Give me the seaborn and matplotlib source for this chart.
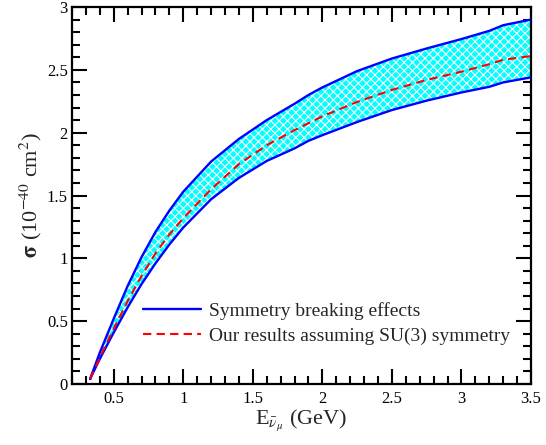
import matplotlib
matplotlib.use("Agg")
import matplotlib.pyplot as plt
import seaborn as sns
import numpy as np
import pandas as pd
from matplotlib.ticker import MultipleLocator, FuncFormatter

# ---- data ----
energy = [0.33, 0.4, 0.5, 0.6, 0.7, 0.8, 0.9, 1.0, 1.2, 1.4, 1.6, 1.8, 1.9, 2.0,
          2.25, 2.5, 2.75, 3.0, 3.2, 3.3, 3.5]
sigma_upper = [0.04, 0.25, 0.52, 0.78, 1.01, 1.21, 1.38, 1.53, 1.77, 1.95, 2.10, 2.23,
               2.30, 2.36, 2.49, 2.59, 2.67, 2.745, 2.81, 2.855, 2.90]
sigma_lower = [0.04, 0.20, 0.41, 0.61, 0.795, 0.96, 1.11, 1.245, 1.47, 1.64, 1.775, 1.875,
               1.935, 1.98, 2.085, 2.18, 2.255, 2.32, 2.365, 2.40, 2.44]
sigma_su3 = [0.04, 0.21, 0.44, 0.66, 0.86, 1.04, 1.19, 1.32, 1.55, 1.75, 1.90, 2.02,
             2.075, 2.13, 2.245, 2.34, 2.42, 2.485, 2.545, 2.58, 2.61]
label_band = "Symmetry breaking effects"
label_su3 = "Our results assuming SU(3) symmetry"

df = pd.DataFrame({"E": energy, "up": sigma_upper, "lo": sigma_lower, "su3": sigma_su3})

sns.set_theme(style="ticks")
plt.rcParams["font.family"] = ["Liberation Serif", "DejaVu Serif"]
plt.rcParams["mathtext.fontset"] = "stix"
plt.rcParams["hatch.color"] = "white"
plt.rcParams["hatch.linewidth"] = 0.8

fig = plt.figure(figsize=(5.46, 4.45), dpi=100)
ax = fig.add_axes([72 / 546, 1 - 384 / 445, (531 - 72) / 546, (384 - 7) / 445])

ax.fill_between(df["E"], df["lo"], df["up"], facecolor="#00ffff", edgecolor="white",
                hatch="xxxx", linewidth=0, zorder=1)
sns.lineplot(data=df, x="E", y="up", ax=ax, color="#0000ff", linewidth=1.7,
             sort=False, estimator=None, label=label_band, zorder=3)
sns.lineplot(data=df, x="E", y="lo", ax=ax, color="#0000ff", linewidth=1.7,
             sort=False, estimator=None, label="_nolegend_", zorder=3)
sns.lineplot(data=df, x="E", y="su3", ax=ax, color="#ff0000", linewidth=1.5,
             sort=False, estimator=None, label=label_su3, zorder=4)
ax.lines[-1].set_dashes((4, 2.5))

ax.set_xlim(0.2, 3.5)
ax.set_ylim(0, 3)
ax.xaxis.set_major_locator(MultipleLocator(0.5))
ax.xaxis.set_minor_locator(MultipleLocator(0.1))
ax.yaxis.set_major_locator(MultipleLocator(0.5))
ax.yaxis.set_minor_locator(MultipleLocator(0.1))
fmt = FuncFormatter(lambda v, p: "%g" % v)
ax.xaxis.set_major_formatter(fmt)
ax.yaxis.set_major_formatter(fmt)

ax.tick_params(which="both", direction="in", top=True, right=True, width=1.5,
               colors="black", labelsize=12)
ax.tick_params(which="major", length=10.5)
ax.tick_params(which="minor", length=5.8)
ax.tick_params(axis="y", which="major", pad=3)
ax.tick_params(axis="x", which="major", pad=5)
for s in ax.spines.values():
    s.set_linewidth(1.6)
    s.set_color("black")

ax.set_xlabel(r"E$_{\bar{\nu}_{\mu}}$ (GeV)", fontsize=16, labelpad=0)
ax.set_ylabel(r"$\mathbf{\sigma}$ (10$^{-40}$ cm$^{2}$)", fontsize=16, labelpad=2)

handles, labels = ax.get_legend_handles_labels()
ax.legend(handles, labels, loc="upper left", bbox_to_anchor=(0.154, 0.217),
          frameon=False, fontsize=14, handlelength=3.0, handletextpad=0.4,
          labelspacing=0.35, borderpad=0, borderaxespad=0)

fig.savefig("out.png", dpi=100)
